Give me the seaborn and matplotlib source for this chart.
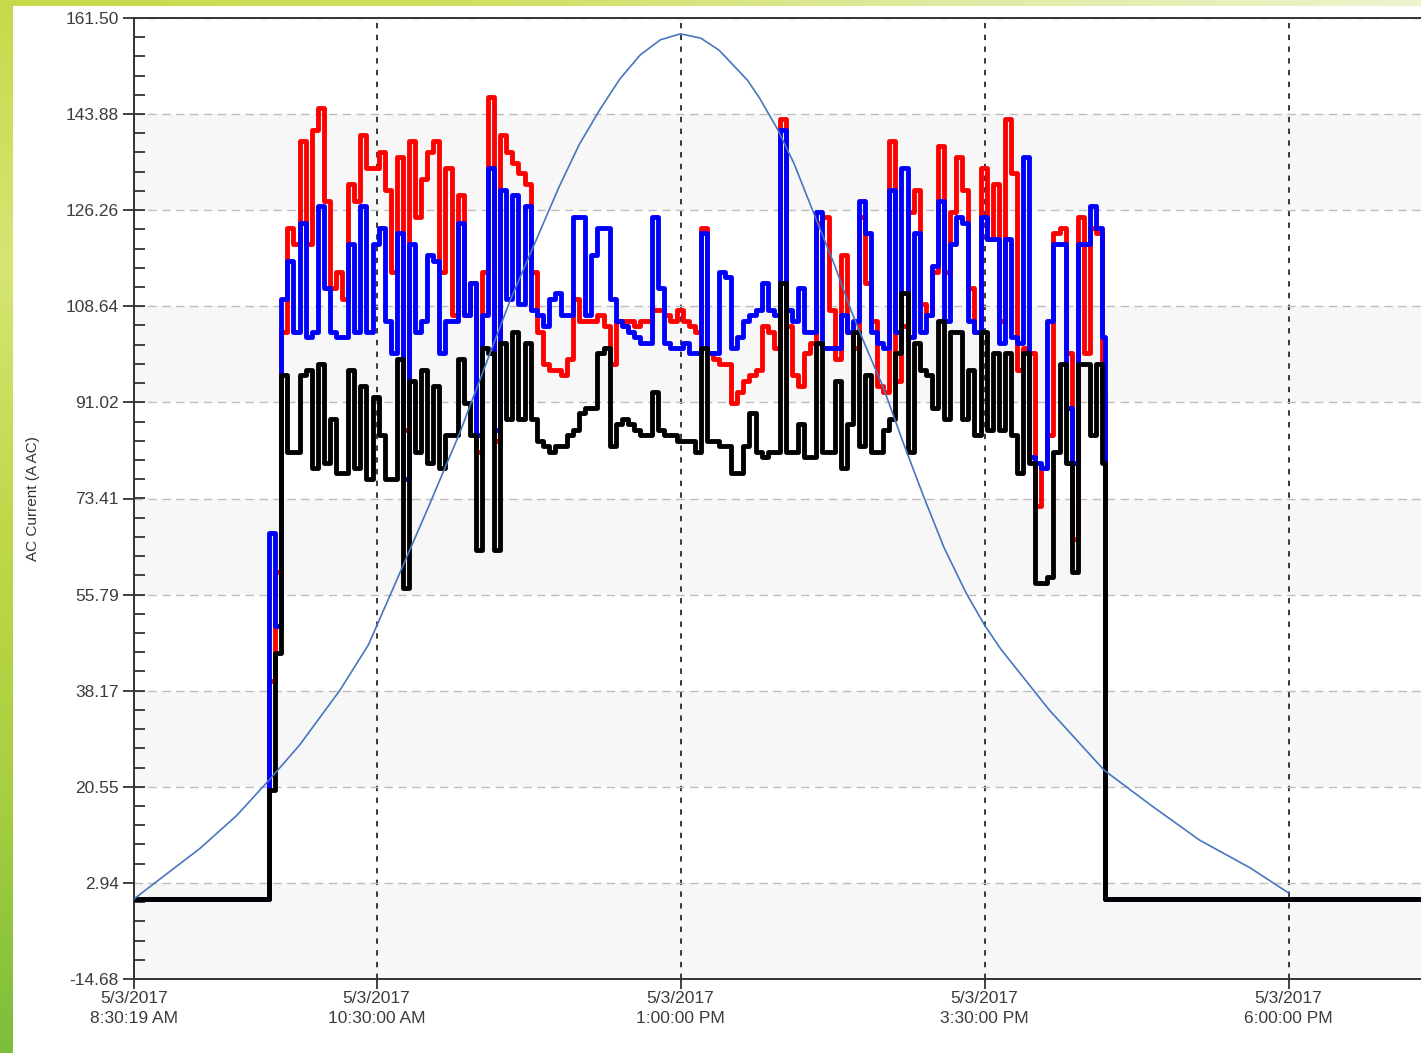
import numpy as np
import pandas as pd
import matplotlib
matplotlib.use("Agg")
import matplotlib.pyplot as plt
from matplotlib.colors import LinearSegmentedColormap
from matplotlib.ticker import FixedLocator, AutoMinorLocator
import seaborn as sns

# AC current per phase, one reading every 3 minutes from 9:37 to 16:28 on 5/3/2017
sample_start = "09:37"
sample_step_min = 3

phase_red = [
    40, 60, 104, 123, 120, 139, 120, 141, 145, 128,
    112, 115, 110, 131, 128, 140, 134, 134, 137, 130,
    115, 136, 86, 139, 125, 132, 137,
    139, 115, 134, 107, 129, 107, 113, 82, 115, 147, 84, 140, 137, 135,
    133, 131, 115, 104, 98, 97, 97, 96, 99, 110, 106, 106, 106, 107,
    105, 98, 106, 106, 106, 105, 106, 106, 108, 108, 107, 106, 108, 106,
    105, 104, 123, 100, 99, 98, 98, 91, 93, 95, 96, 97, 105, 104,
    101, 143, 105, 96, 94, 100, 102, 124, 125, 108, 99, 118, 104, 101,
    125, 113, 106, 94, 93, 139, 95, 105, 126, 130, 109, 107, 115,
    138, 115, 126, 136, 130, 112, 104, 134, 121, 131, 106, 143, 133, 97,
    101, 100, 72, 79, 85, 122, 123, 100, 66, 125, 100, 123, 122, 92,
]
phase_blue = [
    67, 50, 110, 117, 104, 124, 103, 104, 127, 112,
    104, 103, 103, 120, 104, 127, 104, 120, 123, 106,
    100, 122, 77, 120, 104, 106, 118,
    117, 100, 106, 106, 124, 107, 113, 85, 107, 134, 86, 130, 110, 129,
    109, 127, 108, 107, 105, 110, 111, 107, 107, 125, 125, 107, 118, 123,
    123, 110, 106, 105, 104, 103, 102, 102, 125, 112, 102, 101, 101, 102,
    100, 100, 122, 100, 100, 115, 114, 101, 103, 106, 107, 108, 113, 108,
    107, 141, 108, 106, 112, 104, 104, 126, 101, 101, 101, 107, 104, 106,
    128, 122, 104, 102, 101, 130, 104, 134, 103, 122, 104, 107, 116,
    128, 106, 120, 125, 124, 106, 104, 125, 121, 121, 102, 121, 103, 102,
    136, 81, 80, 79, 106, 120, 120, 90, 80, 120, 120, 127, 123, 103,
]
phase_black = [
    20, 45, 96, 82, 82, 96, 97, 79, 98, 80,
    88, 78, 78, 97, 79, 94, 77, 92, 85, 77,
    77, 99, 57, 95, 82, 97, 80,
    94, 79, 85, 85, 99, 91, 85, 64, 101, 100, 64, 102, 88, 104,
    88, 102, 88, 84, 83, 82, 83, 83, 85, 86, 89, 90, 90, 100,
    101, 83, 87, 88, 87, 86, 85, 85, 93, 86, 85, 85, 84, 84,
    84, 82, 101, 84, 84, 83, 83, 78, 78, 83, 89, 82, 81, 82,
    82, 113, 82, 82, 87, 81, 81, 102, 82, 82, 95, 79, 87, 104,
    83, 96, 82, 82, 86, 88, 100, 111, 82, 102, 97, 96, 90,
    106, 88, 104, 104, 88, 97, 85, 104, 86, 100, 86, 100, 85, 78,
    100, 80, 58, 58, 59, 82, 98, 80, 60, 98, 98, 85, 98, 80,
]

# inverter off: zero current before and after production
off_before = ["08:30:19", "09:36:30"]
off_after = ["16:29:30", "19:05:20"]

# thin blue bell-shaped reference curve
bell_times = ["08:30:19", "09:03", "09:21", "09:37", "09:52", "10:12", "10:26", "10:40",
              "10:56", "11:11", "11:36", "12:00", "12:10", "12:20", "12:30", "12:40",
              "12:50", "13:00", "13:10", "13:19", "13:33", "13:39", "13:48", "13:56",
              "14:07", "14:16", "14:24", "14:31", "14:40", "14:50", "15:00", "15:10",
              "15:21", "15:30", "15:38", "16:02", "16:29", "16:52", "17:16", "17:41",
              "18:00"]
bell_values = [0.0, 9.3, 15.3, 21.8, 28.2, 38.3, 46.6, 58.5,
               72.2, 85.4, 109.8, 130.5, 138.3, 144.6, 150.3, 154.7,
               157.5, 158.6, 157.8, 155.6, 150.1, 146.8, 141.0, 134.8,
               124.5, 116.2, 108.0, 101.6, 93.8, 83.5, 73.7, 64.4,
               56.0, 50.2, 45.8, 34.6, 23.6, 17.2, 10.8, 5.7,
               1.1]

y_ticks = [-14.68, 2.94, 20.55, 38.17, 55.79, 73.41, 91.02, 108.64, 126.26, 143.88, 161.50]
y_labels = ["-14.68", "2.94", "20.55", "38.17", "55.79", "73.41", "91.02",
            "108.64", "126.26", "143.88", "161.50"]
x_tick_times = ["08:30:19", "10:30:00", "13:00:00", "15:30:00", "18:00:00"]
x_tick_labels = ["5/3/2017\n8:30:19 AM", "5/3/2017\n10:30:00 AM", "5/3/2017\n1:00:00 PM",
                 "5/3/2017\n3:30:00 PM", "5/3/2017\n6:00:00 PM"]
x_end = "19:05:20"


def hours(t):
    parts = [float(p) for p in t.split(":")]
    parts += [0.0] * (3 - len(parts))
    return parts[0] + parts[1] / 60 + parts[2] / 3600


sample_hours = [hours(sample_start) + i * sample_step_min / 60 for i in range(len(phase_red))]

frames = []
for phase, vals in [("L1", phase_red), ("L2", phase_blue), ("L3", phase_black)]:
    hrs = [hours(t) for t in off_before] + sample_hours + [hours(t) for t in off_after]
    cur = [0.0] * len(off_before) + vals + [0.0] * len(off_after)
    frames.append(pd.DataFrame({"hour": hrs, "current": cur, "phase": phase}))
df = pd.concat(frames, ignore_index=True)

sns.set_style("white")
plt.rcParams["font.family"] = ["Liberation Sans", "DejaVu Sans"]

fig = plt.figure(figsize=(14.21, 10.53), dpi=100)

# green frame of the screenshot
left_cmap = LinearSegmentedColormap.from_list("left", ["#c6d94a", "#d6e574", "#bfd84a", "#a8cf40", "#7cbe3b"])
strip = fig.add_axes([0, 0, 13 / 1421, 1])
strip.imshow(np.linspace(0, 1, 256).reshape(-1, 1), aspect="auto", cmap=left_cmap)
strip.axis("off")
top_cmap = LinearSegmentedColormap.from_list("top", ["#c6d94a", "#cfdf60", "#e0eaa2", "#edf3cc"])
strip2 = fig.add_axes([0, 1 - 6 / 1053, 1, 6 / 1053])
strip2.imshow(np.linspace(0, 1, 256).reshape(1, -1), aspect="auto", cmap=top_cmap)
strip2.axis("off")

ax = fig.add_axes([134 / 1421, 1 - 979 / 1053, 1 - 134 / 1421, (979 - 18) / 1053])

# alternating bands
for lo, hi in zip(y_ticks[0::2], y_ticks[1::2]):
    ax.axhspan(lo, hi, color="#f7f7f7", zorder=0, lw=0)

sns.lineplot(data=df, x="hour", y="current", hue="phase", hue_order=["L1", "L2", "L3"],
             palette=["#ff0000", "#0000ff", "#000000"], estimator=None, linewidth=3.5,
             drawstyle="steps-post", legend=False, ax=ax, zorder=3)
sns.lineplot(x=[hours(t) for t in bell_times], y=bell_values, color="#4776bf",
             linewidth=1.2, sort=False, ax=ax, zorder=4)

ax.set_xlim(hours(x_tick_times[0]), hours(x_end))
ax.set_ylim(y_ticks[0], y_ticks[-1])

ax.yaxis.set_major_locator(FixedLocator(y_ticks))
ax.set_yticklabels(y_labels)
ax.yaxis.set_minor_locator(AutoMinorLocator(5))
ax.xaxis.set_major_locator(FixedLocator([hours(t) for t in x_tick_times]))
ax.set_xticklabels(x_tick_labels)
plt.setp(ax.get_xticklabels(), linespacing=1.45)

ax.set_axisbelow(True)
ax.grid(axis="y", color="#bdbdbd", linestyle=(0, (6, 4)), linewidth=1.0)
ax.grid(axis="x", color="#2a2a2a", linestyle=(0, (3, 3.5)), linewidth=1.3)

for side in ["left", "bottom", "top"]:
    ax.spines[side].set_color("#333333")
    ax.spines[side].set_linewidth(1.4)
ax.spines["right"].set_visible(False)

ax.tick_params(axis="y", which="major", direction="out", length=8, width=1.3,
               color="#333333", labelcolor="#3c3c3c", labelsize=12.5, pad=3, left=True)
ax.tick_params(axis="y", which="minor", direction="in", length=8, width=1.3,
               color="#333333", left=True)
ax.tick_params(axis="x", which="major", direction="out", length=7.5, width=1.3,
               color="#333333", labelcolor="#3c3c3c", labelsize=12.5, pad=1, bottom=True)

ax.set_xlabel("")
ax.set_ylabel("AC Current (A AC)", fontsize=11, color="#333333")
ax.yaxis.set_label_coords(-0.073, 0.5)

fig.savefig("out.png", dpi=100)
